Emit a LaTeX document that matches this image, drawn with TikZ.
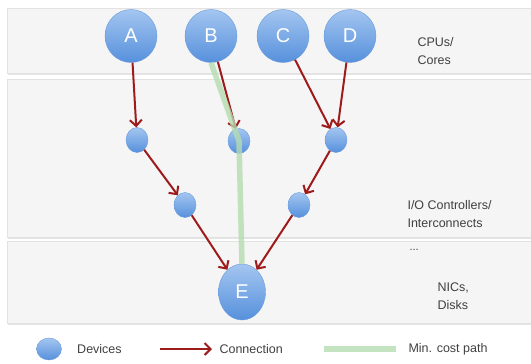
\documentclass[tikz,border=0pt]{standalone}
\usepackage{fontspec}
\setmainfont{Liberation Sans}
\usetikzlibrary{arrows.meta,positioning,shapes.geometric}
\definecolor{conred}{HTML}{9E1B1B}
\definecolor{costgreen}{HTML}{B5DCB0}
\definecolor{layergray}{HTML}{F5F5F5}
\definecolor{layeredge}{HTML}{E2E2E2}
\definecolor{devtop}{HTML}{A4C6F0}
\definecolor{devbot}{HTML}{5690DC}
\definecolor{devedge}{HTML}{6A9BDC}

\begin{document}
\begin{tikzpicture}[x=1pt, y=-1pt,
  device/.style = {ellipse, draw=devedge, top color=devtop, bottom color=devbot, text=white, inner sep=0pt, font=\fontsize{20}{20}\selectfont},
  cpu/.style = {device, minimum width=52pt, minimum height=53pt},
  port/.style = {device, minimum width=22pt, minimum height=25pt},
  conn/.style = {draw=conred, line width=2pt, -{Straight Barb[length=6pt,width=12pt,line width=2pt]}},
  mincost/.style = {draw=costgreen, line width=5.5pt, opacity=0.8},
  layer/.style = {fill=layergray, draw=layeredge, line width=0.5pt},
  label/.style = {align=left, anchor=west, font=\fontsize{12.5}{18}\selectfont, text=black!75}]

    \useasboundingbox (0,0) rectangle (531,364);

    % layers
    \fill[black!10] (8,10) rectangle (533,75);
    \draw[layer] (7,8) rectangle (533,73);
    \fill[black!10] (8,81) rectangle (533,239);
    \draw[layer] (7,79) rectangle (533,237);
    \fill[black!10] (8,244) rectangle (533,325);
    \draw[layer] (7,241) rectangle (533,323);

    % devices
    \node[cpu] (a) at (131,36) {A};
    \node[cpu] (b) at (211,36) {B};
    \node[cpu] (c) at (283,36) {C};
    \node[cpu] (d) at (350,36) {D};
    \node[port] (pa) at (137,140) {};
    \node[port] (pb) at (239,141) {};
    \node[port] (pd) at (336,140) {};
    \node[port] (qa) at (185,205) {};
    \node[port] (qd) at (299,205) {};
    \node[device, minimum width=47pt, minimum height=56pt] (e) at (242,292) {E};

    % connections
    \draw[conn] (a) -- (pa);
    \draw[conn] (b) -- (pb);
    \draw[conn] (c) -- (pd);
    \draw[conn] (d) -- (pd);
    \draw[conn] (pa) -- (qa);
    \draw[conn] (pd) -- (qd);
    \draw[conn] (qa) -- (e);
    \draw[conn] (qd) -- (e);

    % min. cost path
    \draw[mincost] (b.south) -- (pb.center) -- (e.north);

    % layer labels
    \node[label] (cpus) at (414,51) {CPUs/\\Cores};
    \node[label] (ioc) at (404,214) {I/O Controllers/\\Interconnects};
    \node[label] (dots) at (406,250) {\fontsize{11}{11}\selectfont...};
    \node[label] (nics) at (434,296) {NICs,\\Disks};

    % legend
    \node[device, minimum width=25pt, minimum height=22pt] (key) at (49,349) {};
    \node[label, right=12pt of key] (devices) {Devices};
    \coordinate (cs) at (160,349);
    \coordinate (ce) at (212,349);
    \draw[conn] (cs) -- (ce);
    \node[label, right=4pt of ce] (connection) {Connection};
    \coordinate (ms) at (324,349);
    \coordinate (me) at (396,349);
    \draw[mincost] (ms) -- (me);
    \node[label, right=9pt of me] (minpath) {Min. cost path};

\end{tikzpicture}
\end{document}
